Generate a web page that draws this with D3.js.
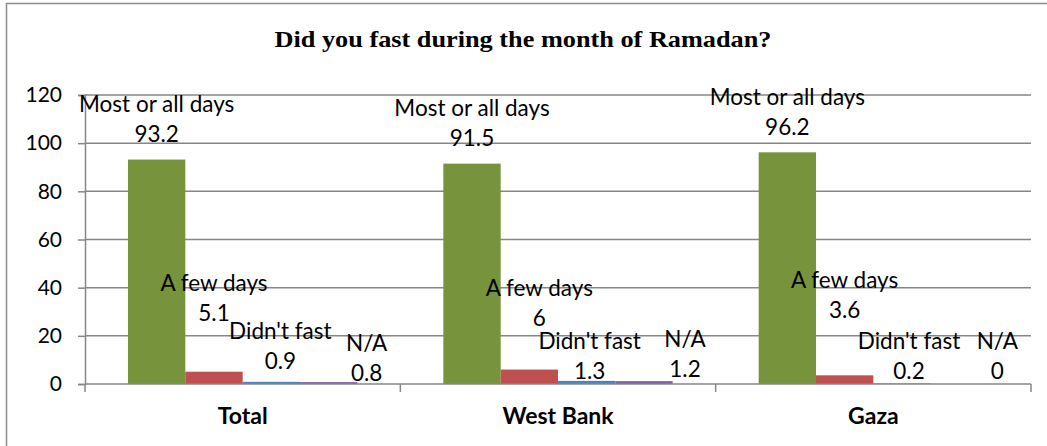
<!DOCTYPE html>
<html>
<head>
<meta charset="utf-8">
<script src="https://cdn.jsdelivr.net/npm/d3@7"></script>
<style>
	body { margin:0; background:#fff; }
	svg text { font-family: Lato, "Open Sans", sans-serif; fill:#000; }
	.title { font-family: "Liberation Serif", serif; font-weight:bold; }
</style>
</head>
<body>
<div id="chart"></div>
<script>
var categories = ["Total", "West Bank", "Gaza"];
var seriesNames = ["Most or all days", "A few days", "Didn't fast", "N/A"];
var mostDays = [93.2, 91.5, 96.2];
var fewDays = [5.1, 6, 3.6];
var didntFast = [0.9, 1.3, 0.2];
var notAvail = [0.8, 1.2, 0];
var yTicks = [0, 20, 40, 60, 80, 100, 120];
var colors = ["#77933C", "#C0504D", "#4F81BD", "#8064A2"];

// where Excel left the (hand moved) data labels: [dx px, name line height in y units]
var labelSpot = [
	[[0, 116.3], [0, 41.9], [9, 22.0], [38, 17.0]],
	[[0, 114.6], [10, 39.9], [3, 17.9], [41, 18.7]],
	[[0, 119.2], [0, 43.2], [7, 17.9], [38, 17.9]]
];

var c = {
	w: 1047, h: 446,
	padding: {l:85, r:16, t:95, b:62},
	svg: null
};

function drawChart() {
	var series = [mostDays, fewDays, didntFast, notAvail];
	c.svg = d3.select('#chart').append('svg')
				.attr('width', c.w)
				.attr('height', c.h);

	// outer frame
	c.svg.append('rect')
			.attr('x', 6.5).attr('y', 3.5)
			.attr('width', c.w + 20).attr('height', c.h + 20)
			.attr('fill', 'none')
			.attr('stroke', '#8c8c8c')
			.attr('stroke-width', 1.5);

	c.svg.append('text')
			.attr('class', 'title')
			.attr('x', 523).attr('y', 47)
			.attr('text-anchor', 'middle')
			.attr('font-size', 23)
			.attr('textLength', 497)
			.attr('lengthAdjust', 'spacingAndGlyphs')
			.text('Did you fast during the month of Ramadan?');

	var x0 = d3.scaleBand()
				.domain(categories)
				.range([c.padding.l, c.w - c.padding.r]);

	var x1 = d3.scaleBand()
				.domain(d3.range(seriesNames.length))
				.range([0, x0.bandwidth()])
				.paddingInner(0)
				.paddingOuter(0.75);

	var y = d3.scaleLinear()
				.domain([0, 120])
				.range([c.h - c.padding.b, c.padding.t]);

	// gridlines
	c.svg.append('g')
			.selectAll('line')
			.data(yTicks.filter(d => d > 0))
			.enter()
			.append('line')
				.attr('x1', c.padding.l).attr('x2', c.w - c.padding.r)
				.attr('y1', d => y(d)).attr('y2', d => y(d))
				.attr('stroke', '#868686')
				.attr('stroke-width', 1.5);

	var y_axis = d3.axisLeft(y).tickValues(yTicks).tickSize(7).tickPadding(16);
	c.svg.append('g')
			.attr('class', 'axis y')
			.attr('transform', 'translate(' + c.padding.l + ',0)')
			.call(y_axis)
			.call(g => g.selectAll('line, path').attr('stroke', '#868686').attr('stroke-width', 1.5))
			.call(g => g.selectAll('text').attr('font-size', 21).attr('font-family', 'Lato'));

	// bars
	var groups = c.svg.append('g')
			.attr('class', 'bars')
			.selectAll('g')
			.data(categories)
			.enter()
			.append('g')
				.attr('transform', d => 'translate(' + x0(d) + ',0)');

	groups.selectAll('rect')
			.data((d, i) => series.map((s, k) => ({k: k, v: s[i]})))
			.enter()
			.append('rect')
				.attr('x', d => x1(d.k))
				.attr('y', d => y(d.v))
				.attr('width', x1.bandwidth())
				.attr('height', d => y(0) - y(d.v))
				.attr('fill', d => colors[d.k]);

	// x axis
	var x_axis = d3.axisBottom(x0).tickSize(0).tickPadding(24);
	var xg = c.svg.append('g')
			.attr('class', 'axis x')
			.attr('transform', 'translate(0,' + y(0) + ')')
			.call(x_axis)
			.call(g => g.select('.domain').attr('d', 'M' + c.padding.l + ',0H' + (c.w - c.padding.r)))
			.call(g => g.selectAll('path').attr('stroke', '#868686').attr('stroke-width', 1.5))
			.call(g => g.selectAll('text').attr('font-size', 23).attr('font-weight', 'bold').attr('font-family', 'Lato'));
	xg.selectAll('.sep')
			.data(categories.concat(['end']))
			.enter()
			.append('line')
				.attr('x1', (d, i) => c.padding.l + i * x0.step())
				.attr('x2', (d, i) => c.padding.l + i * x0.step())
				.attr('y1', 0).attr('y2', 8)
				.attr('stroke', '#868686')
				.attr('stroke-width', 1.5);

	// data labels
	var labels = groups.selectAll('g.lbl')
			.data((d, i) => series.map((s, k) => ({k: k, v: s[i], spot: labelSpot[i][k]})))
			.enter()
			.append('g')
				.attr('class', 'lbl')
				.attr('transform', d => 'translate(' + (x1(d.k) + x1.bandwidth() / 2 + d.spot[0]) + ',' + y(d.spot[1]) + ')');
	labels.append('text')
			.attr('text-anchor', 'middle')
			.attr('dy', '0.35em')
			.attr('font-size', 22.5)
			.text(d => seriesNames[d.k]);
	labels.append('text')
			.attr('text-anchor', 'middle')
			.attr('y', 30)
			.attr('dy', '0.35em')
			.attr('font-size', 22.5)
			.text(d => d.v);
}

drawChart();
</script>
</body>
</html>
